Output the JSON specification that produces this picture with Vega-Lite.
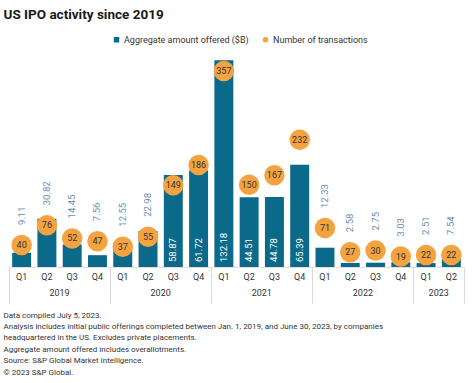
{
  "$schema": "https://vega.github.io/schema/vega-lite/v6.json",
  "padding": {"left": 3, "top": 7, "right": 3, "bottom": 0},
  "title": {"text": "US IPO activity since 2019", "anchor": "start", "fontSize": 13.5, "fontWeight": "bold", "color": "#1a1a1a", "offset": 14},
  "vconcat": [
    {
      "data": {"values": [
        {"period": "2019 Q1", "amount": 9.11, "count": 40},
        {"period": "2019 Q2", "amount": 30.82, "count": 76},
        {"period": "2019 Q3", "amount": 14.45, "count": 52},
        {"period": "2019 Q4", "amount": 7.56, "count": 47},
        {"period": "2020 Q1", "amount": 12.55, "count": 37},
        {"period": "2020 Q2", "amount": 22.98, "count": 55},
        {"period": "2020 Q3", "amount": 58.87, "count": 149},
        {"period": "2020 Q4", "amount": 61.72, "count": 186},
        {"period": "2021 Q1", "amount": 132.18, "count": 357},
        {"period": "2021 Q2", "amount": 44.51, "count": 150},
        {"period": "2021 Q3", "amount": 44.78, "count": 167},
        {"period": "2021 Q4", "amount": 65.39, "count": 232},
        {"period": "2022 Q1", "amount": 12.33, "count": 71},
        {"period": "2022 Q2", "amount": 2.58, "count": 27},
        {"period": "2022 Q3", "amount": 2.75, "count": 30},
        {"period": "2022 Q4", "amount": 3.03, "count": 19},
        {"period": "2023 Q1", "amount": 2.51, "count": 22},
        {"period": "2023 Q2", "amount": 7.54, "count": 22}
      ]},
      "title": {
        "text": [
          "Data compiled July 5, 2023.",
          "Analysis includes initial public offerings completed between Jan. 1, 2019, and June 30, 2023, by companies",
          "headquartered in the US. Excludes private placements.",
          "Aggregate amount offered includes overallotments.",
          "Source: S&P Global Market Intelligence.",
          "© 2023 S&P Global."
        ],
        "orient": "bottom", "anchor": "start", "fontSize": 8, "fontWeight": "normal", "lineHeight": 11.4, "color": "#333333", "dx": -5, "offset": 8
      },
      "width": 455,
      "height": 219,
      "layer": [
        {
          "mark": {"type": "bar", "color": "#0B6A89"},
          "encoding": {
            "x": {"field": "period", "type": "ordinal", "title": null, "scale": {"paddingInner": 0.25, "paddingOuter": 0.125},
                  "axis": {"orient": "bottom", "labelAngle": 0, "ticks": false, "domain": true, "domainColor": "#e6dde0", "labelFontSize": 9, "labelColor": "#333333", "labelPadding": 5, "labelExpr": "substring(datum.label, 5)"}},
            "y": {"field": "amount", "type": "quantitative", "scale": {"domain": [0, 140]}, "axis": null},
            "color": {"datum": "Aggregate amount offered ($B)", "type": "nominal",
                      "scale": {"domain": ["Aggregate amount offered ($B)", "Number of transactions"], "range": ["#0B6A89", "#F4A340"]},
                      "legend": {"title": null, "orient": "none", "legendX": 103, "legendY": -13, "direction": "horizontal", "labelFontSize": 9, "labelColor": "#333333", "symbolSize": 30, "labelOffset": 3, "columnPadding": 12,
                                 "encode": {"symbols": {"update": {"shape": {"signal": "datum.value === 'Number of transactions' ? 'circle' : 'square'"}}}}}}
          }
        },
        {
          "transform": [{"filter": "datum.amount > 40"}],
          "mark": {"type": "text", "angle": -90, "align": "left", "baseline": "middle", "dx": 5, "color": "white", "fontSize": 9.5},
          "encoding": {
            "x": {"field": "period", "type": "ordinal", "title": null,
                  "axis": {"orient": "bottom", "values": ["2019 Q2", "2020 Q2", "2021 Q2", "2022 Q2", "2023 Q1"], "labelExpr": "substring(datum.label, 0, 4)", "labelOffset": 12.64, "labelAngle": 0, "ticks": false, "domain": false, "labelFontSize": 9, "labelColor": "#333333", "labelPadding": 21}},
            "y": {"datum": 0, "type": "quantitative", "scale": {"domain": [0, 140]}, "axis": null},
            "text": {"field": "amount", "type": "quantitative", "format": ".2f"}
          }
        },
        {
          "mark": {"type": "circle", "size": 420, "opacity": 1},
          "encoding": {
            "x": {"field": "period", "type": "ordinal", "title": null,
                  "axis": {"orient": "bottom", "values": ["2019 Q4", "2020 Q4", "2021 Q4", "2022 Q4", "2023 Q2"], "tickOffset": 12.64, "labels": false, "domain": false, "ticks": true, "tickSize": 36, "tickColor": "#d9d9d9", "tickWidth": 1}},
            "y": {"field": "count", "type": "quantitative", "scale": {"domain": [0, 399]}, "axis": null},
            "color": {"datum": "Number of transactions", "type": "nominal"}
          }
        },
        {
          "mark": {"type": "text", "fontSize": 9, "color": "#333333", "baseline": "middle"},
          "encoding": {
            "x": {"field": "period", "type": "ordinal", "title": null,
                  "axis": {"orient": "bottom", "values": ["2019 Q1"], "tickOffset": -12.64, "labels": false, "domain": false, "ticks": true, "tickSize": 36, "tickColor": "#d9d9d9", "tickWidth": 1}},
            "y": {"field": "count", "type": "quantitative", "scale": {"domain": [0, 399]}, "axis": null},
            "text": {"field": "count", "type": "quantitative"}
          }
        },
        {
          "transform": [{"filter": "datum.amount <= 40"}],
          "mark": {"type": "text", "angle": -90, "align": "left", "baseline": "middle", "dx": 20, "color": "#6A8FB0", "fontSize": 9.5},
          "encoding": {
            "x": {"field": "period", "type": "ordinal", "title": null, "axis": null},
            "y": {"field": "count", "type": "quantitative", "scale": {"domain": [0, 399]}, "axis": null},
            "text": {"field": "amount", "type": "quantitative", "format": ".2f"}
          }
        }
      ],
      "resolve": {"scale": {"y": "independent"}, "axis": {"x": "independent"}}
    }
  ],
  "config": {"font": "Roboto", "view": {"stroke": null}}
}
